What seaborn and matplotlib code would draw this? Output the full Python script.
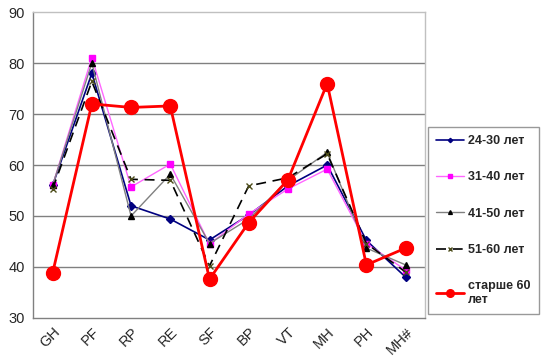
import matplotlib
matplotlib.use("Agg")
import matplotlib.pyplot as plt
import seaborn as sns
import pandas as pd

categories = ["GH", "PF", "RP", "RE", "SF", "BP", "VT", "MH", "PH", "MH#"]
age_24_30 = [56.0, 78.0, 52.0, 49.4, 45.3, 50.2, 55.9, 60.0, 45.2, 38.0]
age_31_40 = [56.0, 81.1, 55.7, 60.2, 44.5, 50.4, 55.3, 59.2, 44.6, 39.4]
age_41_50 = [56.0, 80.0, 50.0, 58.2, 44.6, 49.4, 57.0, 62.5, 43.7, 40.4]
age_51_60 = [55.3, 76.4, 57.2, 57.0, 40.2, 55.9, 57.5, 62.2, 44.6, 39.0]
age_60_plus = [38.8, 72.0, 71.3, 71.6, 37.6, 48.7, 57.1, 76.0, 40.4, 43.7]

series_names = ["24-30 лет", "31-40 лет", "41-50 лет", "51-60 лет", "старше 60\nлет"]
series_values = [age_24_30, age_31_40, age_41_50, age_51_60, age_60_plus]

rows = []
for name, vals in zip(series_names, series_values):
    for i, v in enumerate(vals):
        rows.append({"pos": i, "scale": categories[i], "group": name, "value": v})
df = pd.DataFrame(rows)

sns.set_style("white")
plt.rcParams['font.family'] = ['Liberation Sans', 'DejaVu Sans']

fig = plt.figure(figsize=(5.41, 3.58), dpi=100)
ax = fig.add_axes([0.061, 0.112, 0.725, 0.854])

styles = {
    "24-30 лет": dict(color="#000080", lw=1.2, marker="D", ms=4, mfc="#000080", mec="#000080", ls="-"),
    "31-40 лет": dict(color="#FF66FF", lw=1.0, marker="s", ms=5, mfc="#FF00FF", mec="#FF00FF", ls="-"),
    "41-50 лет": dict(color="#808080", lw=1.0, marker="^", ms=5, mfc="black", mec="black", ls="-"),
    "51-60 лет": dict(color="black", lw=1.2, marker="x", ms=5, mfc="#4d4d1a", mec="#4d4d1a", ls=(0, (6, 4))),
    "старше 60\nлет": dict(color="#FF0000", lw=2.0, marker="o", ms=10, mfc="#FF0000", mec="#FF0000", ls="-"),
}

for name in series_names:
    st = styles[name]
    sns.lineplot(data=df[df["group"] == name], x="pos", y="value", ax=ax,
                 color=st["color"], linewidth=st["lw"], linestyle=st["ls"],
                 marker=st["marker"], markersize=st["ms"],
                 markerfacecolor=st["mfc"], markeredgecolor=st["mec"],
                 markeredgewidth=1.0, label=name, errorbar=None)

ax.set_xlim(-0.5, len(categories) - 0.5)
ax.set_ylim(30, 90)
ax.set_yticks(range(30, 91, 10))
ax.set_xticks(range(len(categories)))
ax.set_xticklabels(categories, rotation=45, ha="right", rotation_mode="anchor", fontsize=10.5)
ax.tick_params(axis="y", labelsize=10.5, length=0, pad=6)
ax.tick_params(axis="x", length=0, pad=5)
ax.set_xlabel("")
ax.set_ylabel("")

for y in range(40, 90, 10):
    ax.axhline(y, color="#808080", lw=1.0, zorder=0)

for side in ["left", "bottom"]:
    ax.spines[side].set_color("#808080")
    ax.spines[side].set_linewidth(1.0)
for side in ["top", "right"]:
    ax.spines[side].set_color("#c0c0c0")
    ax.spines[side].set_linewidth(1.0)

leg = ax.legend(loc="upper left", bbox_to_anchor=(1.006, 0.625), frameon=True,
                fancybox=False, edgecolor="#808080", handlelength=2.3,
                labelspacing=1.95, borderpad=0.65, handletextpad=0.3,
                borderaxespad=0.0, markerscale=0.55,
                prop={"weight": "bold", "size": 9})
leg.get_frame().set_linewidth(1.0)

fig.savefig("out.png", dpi=100, facecolor="white")
